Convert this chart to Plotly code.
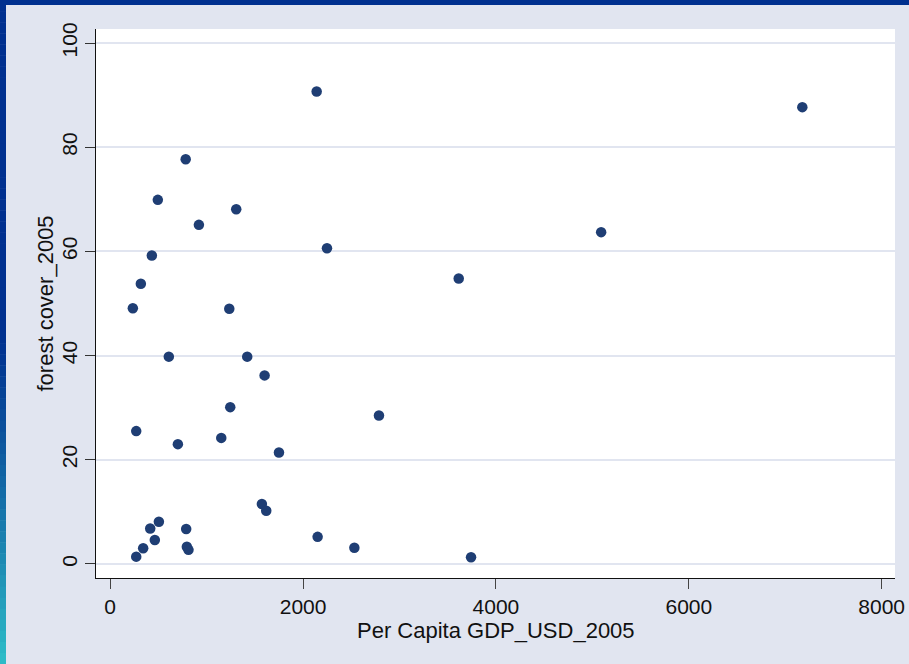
import plotly.graph_objects as go

gdp = [2141, 7177, 783, 494, 1307, 920, 5091, 2248, 432, 3614, 318, 235, 1235,
       608, 1421, 1601, 1245, 2787, 270, 702, 1152, 1750, 1573, 1618, 505, 788,
       415, 463, 2151, 342, 795, 812, 2532, 270, 3742]
forest = [90.7, 87.7, 77.7, 69.9, 68.1, 65.1, 63.7, 60.6, 59.2, 54.8, 53.8, 49.1, 49.0,
          39.8, 39.8, 36.2, 30.1, 28.5, 25.5, 23.0, 24.2, 21.4, 11.5, 10.2, 8.1, 6.7,
          6.8, 4.6, 5.2, 3.0, 3.3, 2.7, 3.1, 1.4, 1.3]
x_ticks = [0, 2000, 4000, 6000, 8000]
y_ticks = [0, 20, 40, 60, 80, 100]
x_title = "Per Capita GDP_USD_2005"
y_title = "forest cover_2005"

W, H = 909, 664
ML, MR, MT, MB = 96, 14, 29, 86
PW, PH = W - ML - MR, H - MT - MB
BG = "#e1e5f0"
FONT = "Liberation Sans, Arial, sans-serif"

def px(xp):
    return (xp - ML) / PW

def py(yp):
    return (H - MB - yp) / PH

fig = go.Figure(go.Scatter(
    x=gdp, y=forest, mode="markers",
    marker=dict(size=10.5, color="#1f3e74", line=dict(width=0)),
    hoverinfo="x+y", showlegend=False))

shapes = []
# top dark band
shapes.append(dict(type="rect", xref="paper", yref="paper", x0=px(0), x1=px(W),
                   y0=py(0), y1=py(5), fillcolor="#00308f", line=dict(width=0), layer="above"))
# left gradient band
n = 60
c0 = (0, 48, 143)
c1 = (46, 190, 200)
for i in range(n):
    y0p = H * i / n
    y1p = H * (i + 1) / n
    t = (i + 0.5) / n
    f = max(0.0, (t - 0.5) / 0.5)
    f = f ** 1.2
    col = tuple(int(round(c0[k] + (c1[k] - c0[k]) * f)) for k in range(3))
    shapes.append(dict(type="rect", xref="paper", yref="paper", x0=px(0), x1=px(6),
                       y0=py(y0p), y1=py(y1p + 0.5),
                       fillcolor="rgb(%d,%d,%d)" % col, line=dict(width=0), layer="above"))

fig.update_layout(
    width=W, height=H,
    margin=dict(l=ML, r=MR, t=MT, b=MB, pad=0, autoexpand=False),
    paper_bgcolor=BG, plot_bgcolor="white",
    font=dict(family=FONT, size=21, color="#111111"),
    shapes=shapes,
    annotations=[
        dict(text=x_title, xref="paper", yref="paper", x=0.5, y=py(630),
             xanchor="center", yanchor="middle", showarrow=False,
             font=dict(family=FONT, size=22, color="#111111")),
        dict(text=y_title, xref="paper", yref="paper", x=px(45), y=0.5,
             xanchor="center", yanchor="middle", textangle=-90, showarrow=False,
             font=dict(family=FONT, size=22, color="#111111")),
    ],
)
fig.update_xaxes(range=[-147, 8138], tickvals=x_ticks, ticktext=[str(v) for v in x_ticks],
                 automargin=False,
                 showgrid=False, zeroline=False, showline=True, linecolor="#111111", linewidth=1,
                 ticks="outside", ticklen=10, tickwidth=1.3, tickcolor="#444444",
                 tickfont=dict(family=FONT, size=21, color="#111111"))
fig.update_yaxes(range=[-2.7, 102.7], tickvals=y_ticks, ticktext=[str(v) for v in y_ticks],
                 automargin=False,
                 showgrid=True, gridcolor="#e1e5f0", gridwidth=2.3, zeroline=False,
                 showline=True, linecolor="#111111", linewidth=1,
                 ticks="outside", ticklen=10, tickwidth=1.3, tickcolor="#333333",
                 tickangle=-90, tickfont=dict(family=FONT, size=21, color="#111111"))

fig.write_html("out.html",
               config={"displayModeBar": False, "responsive": False},
               post_script="document.documentElement.style.margin='0';"
                           "document.documentElement.style.overflow='hidden';"
                           "document.body.style.margin='0';document.body.style.padding='0';"
                           "document.body.style.overflow='hidden';")
